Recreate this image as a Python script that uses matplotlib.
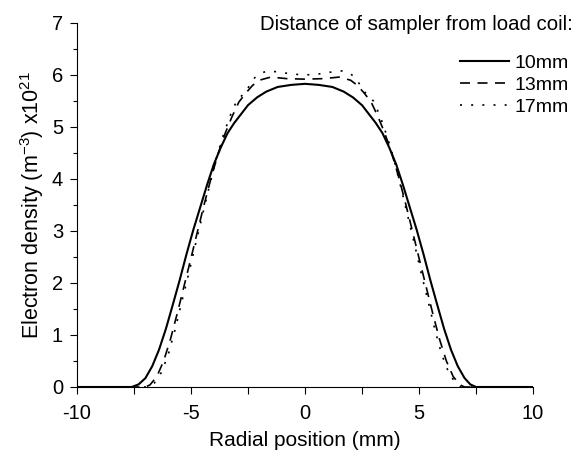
import matplotlib
matplotlib.use("Agg")
import matplotlib.pyplot as plt
from matplotlib.ticker import MultipleLocator

plt.rcParams['font.family'] = ['Liberation Sans', 'DejaVu Sans']
plt.rcParams['axes.unicode_minus'] = False
plt.rcParams['mathtext.fontset'] = 'custom'
plt.rcParams['mathtext.rm'] = 'Liberation Sans'
plt.rcParams['mathtext.it'] = 'Liberation Sans:italic'

# 10 mm (solid)
x10 = [-10, -7.6, -7.3, -7.0, -6.7, -6.4, -6.1, -5.8, -5.5, -5.2, -4.9, -4.6, -4.3,
       -4.0, -3.7, -3.4, -3.1, -2.8, -2.5, -2.1, -1.7, -1.2, -0.6, 0.0,
       0.6, 1.2, 1.7, 2.1, 2.5, 2.8, 3.1, 3.4, 3.7, 4.0, 4.3, 4.6, 4.9, 5.2,
       5.5, 5.8, 6.1, 6.4, 6.7, 7.0, 7.25, 7.5, 10]
y10 = [0, 0, 0.05, 0.17, 0.40, 0.72, 1.12, 1.58, 2.05, 2.55, 3.02, 3.45, 3.88,
       4.28, 4.60, 4.88, 5.08, 5.25, 5.42, 5.57, 5.68, 5.77, 5.81, 5.83,
       5.81, 5.77, 5.68, 5.57, 5.42, 5.25, 5.08, 4.88, 4.60, 4.28, 3.88, 3.45, 3.02, 2.55,
       2.05, 1.58, 1.12, 0.72, 0.40, 0.17, 0.05, 0, 0]

# 13 mm (dashed)
x13 = [-10, -7.0, -6.8, -6.5, -6.2, -5.9, -5.6, -5.3, -5.0, -4.7, -4.4, -4.1,
       -3.8, -3.5, -3.2, -2.9, -2.6, -2.3, -2.0, -1.5, -0.8, 0.0,
       0.8, 1.5, 2.0, 2.3, 2.6, 2.9, 3.2, 3.5, 3.8, 4.1, 4.4, 4.7, 5.0,
       5.3, 5.6, 5.9, 6.2, 6.5, 6.8, 7.0, 10]
y13 = [0, 0, 0.04, 0.20, 0.50, 0.92, 1.42, 1.95, 2.48, 3.02, 3.55, 4.05,
       4.50, 4.88, 5.20, 5.48, 5.65, 5.80, 5.90, 5.96, 5.93, 5.92,
       5.93, 5.96, 5.90, 5.80, 5.65, 5.48, 5.20, 4.88, 4.50, 4.05, 3.55, 3.02, 2.48,
       1.95, 1.42, 0.92, 0.50, 0.20, 0.04, 0, 0]

# 17 mm (dotted)
x17 = [-10, -6.85, -6.6, -6.3, -6.0, -5.7, -5.4, -5.1, -4.8, -4.5, -4.2, -3.9,
       -3.6, -3.3, -3.0, -2.6, -2.4, -2.2, -2.0, -1.65, -1.2, -0.6, 0.0,
       0.6, 1.2, 1.65, 2.0, 2.2, 2.4, 2.6, 3.0, 3.3, 3.6, 3.9, 4.2, 4.5,
       4.8, 5.1, 5.4, 5.7, 6.0, 6.3, 6.6, 6.85, 10]
y17 = [0, 0, 0.08, 0.28, 0.62, 1.10, 1.65, 2.18, 2.75, 3.30, 3.85, 4.38,
       4.82, 5.20, 5.50, 5.68, 5.82, 5.95, 6.02, 6.08, 6.06, 6.02, 6.00,
       6.02, 6.06, 6.08, 6.02, 5.95, 5.82, 5.68, 5.50, 5.20, 4.82, 4.38, 3.85, 3.30,
       2.75, 2.18, 1.65, 1.10, 0.62, 0.28, 0.08, 0, 0]

labels = ["10mm", "13mm", "17mm"]

fig = plt.figure(figsize=(5.82, 4.54), dpi=100)
ax = fig.add_axes([77/582, 1-387/454, (533-77)/582, (387-23)/454])

l1, = ax.plot(x10, y10, color='black', lw=1.5, solid_joinstyle='round')
l2, = ax.plot(x13, y13, color='black', lw=1.2, dashes=(6, 4.5))
l3, = ax.plot(x17, y17, color='black', lw=1.2, dashes=(1.2, 5.5))

ax.set_xlim(-10, 10)
ax.set_ylim(0, 7)
ax.xaxis.set_major_locator(MultipleLocator(5))
ax.xaxis.set_minor_locator(MultipleLocator(2.5))
ax.yaxis.set_major_locator(MultipleLocator(1))
ax.yaxis.set_minor_locator(MultipleLocator(0.5))

for s in ['top', 'right']:
    ax.spines[s].set_visible(False)
for s in ['left', 'bottom']:
    ax.spines[s].set_linewidth(0.8)

ax.tick_params(axis='both', which='major', direction='out', labelsize=14.5, width=0.8)
ax.tick_params(axis='x', which='major', length=5, pad=7)
ax.tick_params(axis='x', which='minor', length=5, width=0.8)
ax.tick_params(axis='y', which='major', length=5, pad=5)
ax.tick_params(axis='y', which='minor', length=3, width=0.8)

ax.set_xlabel("Radial position (mm)", fontsize=15, labelpad=6)
ax.set_ylabel("Electron density (m$^{-3}$) x10$^{21}$", fontsize=15.5, labelpad=4)

fig.text(573/582, 1-25/454, "Distance of sampler from load coil:", fontsize=14.7,
         ha='right', va='center')

leg = ax.legend([l1, l2, l3], labels, loc='upper right',
                bbox_to_anchor=(573/582, 1-50/454), bbox_transform=fig.transFigure,
                frameon=False, fontsize=14, handlelength=2.5, handletextpad=0.3,
                labelspacing=0.24, borderpad=0.2, borderaxespad=0)

fig.savefig("out.png", dpi=100)
